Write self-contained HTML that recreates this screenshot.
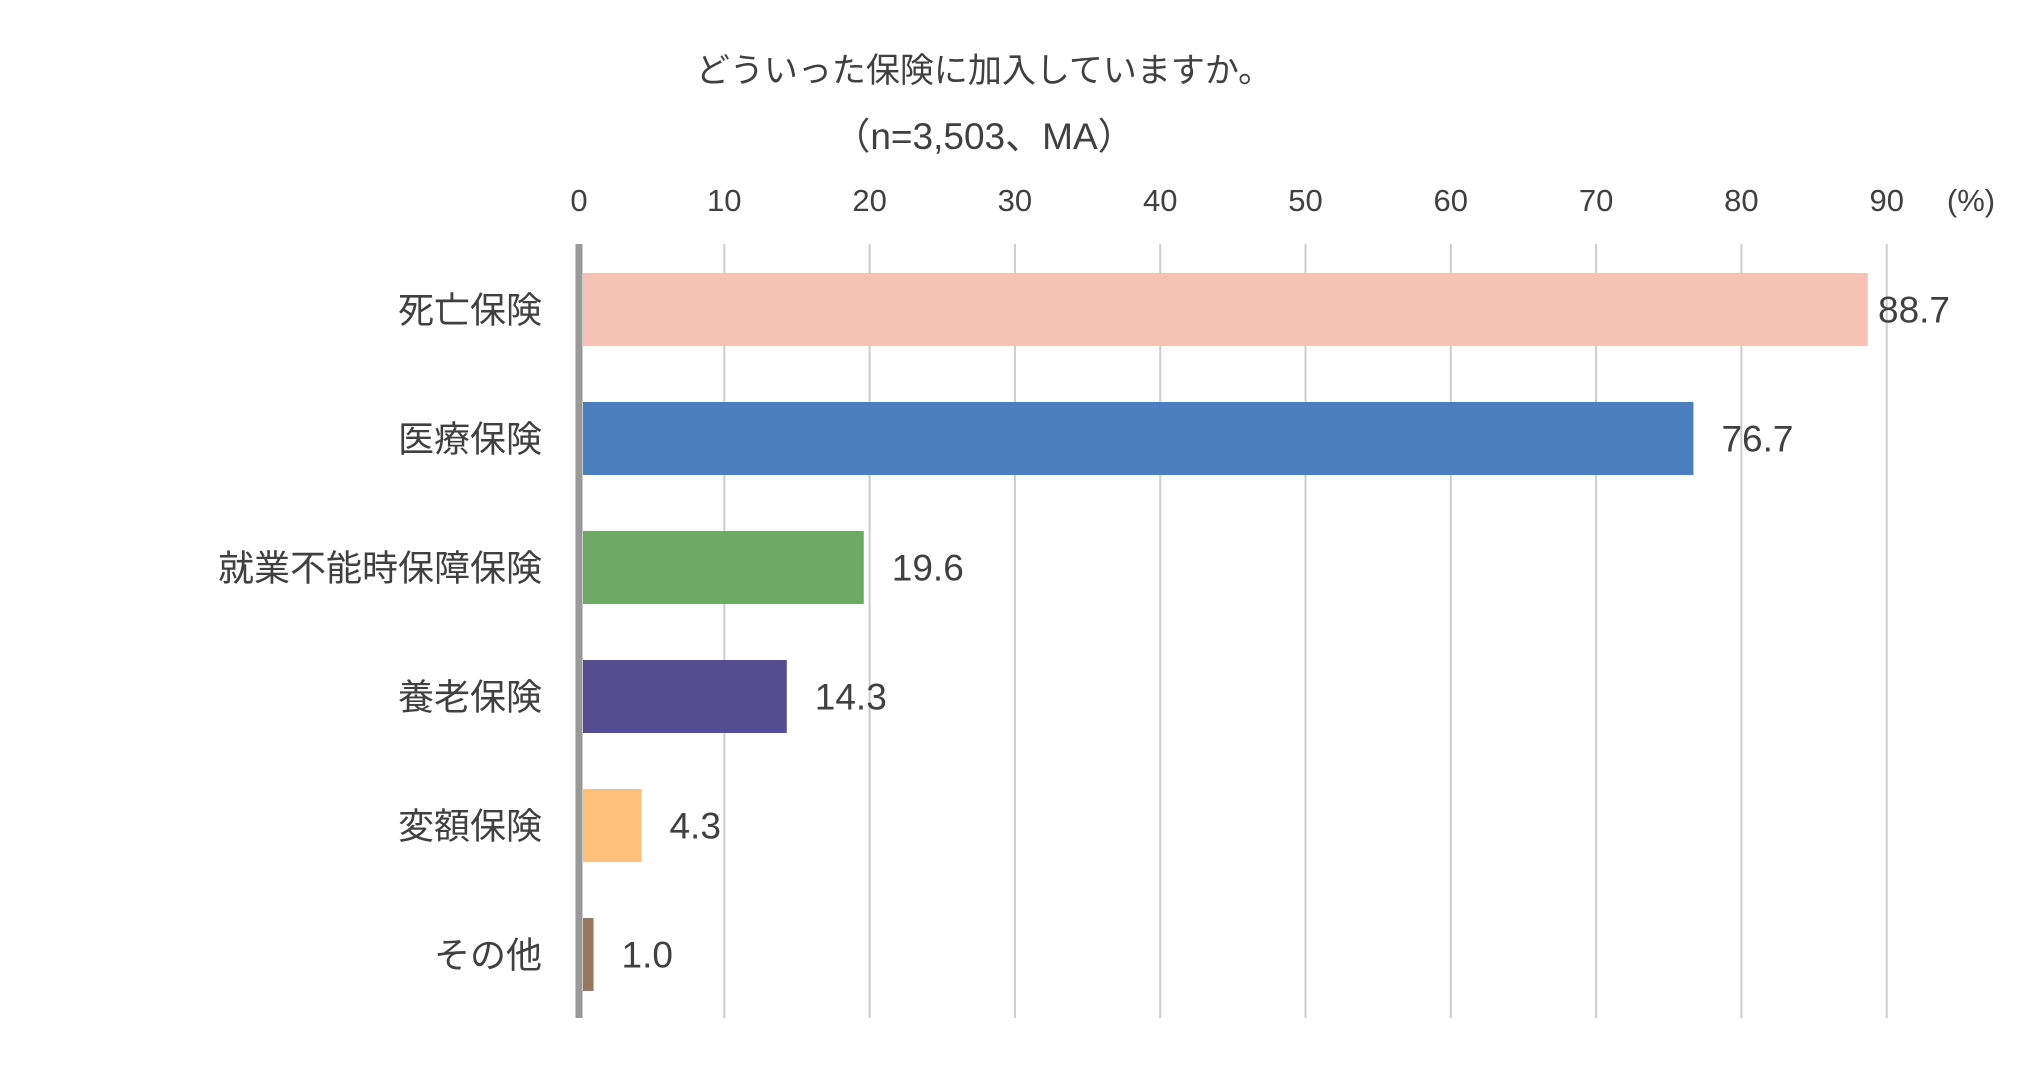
<!DOCTYPE html>
<html><head><meta charset="utf-8"><style>
html,body{margin:0;padding:0;background:#fff;}
svg text{font-family:"Liberation Sans","Noto Sans CJK JP",sans-serif;fill:#404040;}
</style></head><body>
<svg id="c" width="2038" height="1077" viewBox="0 0 2038 1077" xmlns="http://www.w3.org/2000/svg">
<text x="984" y="82" font-size="34" text-anchor="middle">どういった保険に加入していますか。</text>
<text x="984" y="149" font-size="37" text-anchor="middle">（n=3,503、MA）</text>
<text x="1971" y="211" font-size="31" text-anchor="middle">(%)</text>
<g id="grid"></g><g id="bars"></g>
</svg>
<script>
const categories=["死亡保険","医療保険","就業不能時保障保険","養老保険","変額保険","その他"];
const values=[88.7,76.7,19.6,14.3,4.3,1.0];
const valueLabels=["88.7","76.7","19.6","14.3","4.3","1.0"];
const colors=["#f6c2b4","#4a80bd","#6dab64","#544d8e","#fdc17a","#97785b"];
const ticks=[0,10,20,30,40,50,60,70,80,90];
const NS="http://www.w3.org/2000/svg";
const x0=579,pxPer=14.53,plotTop=244,plotBottom=1018,firstY=273,pitch=129,bh=73;
const xs=v=>x0+v*pxPer;
function mk(t,a){const e=document.createElementNS(NS,t);for(const k in a)e.setAttribute(k,a[k]);return e;}
const g=document.getElementById('grid'),b=document.getElementById('bars');
ticks.forEach(t=>{
 if(t>0){const l=mk('line',{x1:xs(t),x2:xs(t),y1:plotTop,y2:plotBottom,stroke:'#cccccc','stroke-width':2});
 
 g.appendChild(l);}
 const tx=mk('text',{x:xs(t),y:211,'font-size':31,'text-anchor':'middle'});tx.textContent=t;
 
 g.appendChild(tx);
});
categories.forEach((c,i)=>{
 const y=firstY+i*pitch;
 const r=mk('rect',{x:x0+4,y:y,width:Math.max(0,xs(values[i])-x0-4),height:bh,fill:colors[i]});
 
 b.appendChild(r);
 const lb=mk('text',{x:542,y:y+bh/2+13,'font-size':36,'text-anchor':'end'});lb.textContent=c;
 
 b.appendChild(lb);
 const vx=Math.min(xs(values[i])+28,1878);
 const vl=mk('text',{x:vx,y:y+bh/2+13,'font-size':37});vl.textContent=valueLabels[i];
 
 b.appendChild(vl);
});
const ax=mk('line',{x1:x0,x2:x0,y1:plotTop,y2:plotBottom,stroke:'#999999','stroke-width':7});

b.appendChild(ax);
</script>
</body></html>
